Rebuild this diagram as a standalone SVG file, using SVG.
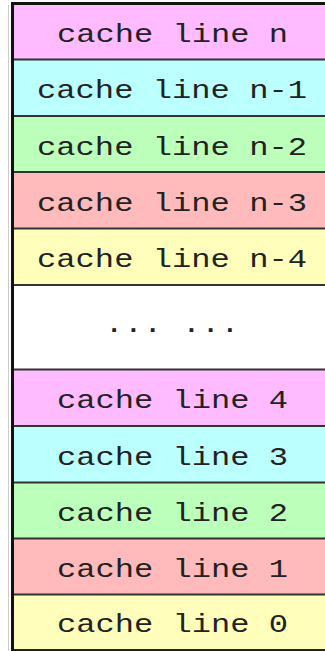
<svg xmlns="http://www.w3.org/2000/svg" width="325" height="651" viewBox="0 0 325 651">
<style>
.t{font-family:"Liberation Mono","DejaVu Sans Mono",monospace;font-size:25px;fill:#222;text-anchor:middle}
.sep{stroke:#333;stroke-width:2}
.pink{fill:#FFBBFF}.cyan{fill:#BBFFFF}.green{fill:#BBFFBB}.red{fill:#FFBBBB}.yellow{fill:#FFFFBB}
</style>
<rect width="325" height="651" fill="#fff"/>
<g id="line-n"><rect class="pink" x="12" y="3" width="320" height="56.5"/><text class="t" x="172.5" y="42" textLength="231" lengthAdjust="spacingAndGlyphs">cache line n</text></g>
<g id="line-n-1"><rect class="cyan" x="12" y="59.5" width="320" height="56.5"/><text class="t" x="172" y="98" textLength="270" lengthAdjust="spacingAndGlyphs">cache line n-1</text></g>
<g id="line-n-2"><rect class="green" x="12" y="116" width="320" height="56"/><text class="t" x="172" y="154.5" textLength="270" lengthAdjust="spacingAndGlyphs">cache line n-2</text></g>
<g id="line-n-3"><rect class="red" x="12" y="172" width="320" height="56.5"/><text class="t" x="172" y="210.5" textLength="270" lengthAdjust="spacingAndGlyphs">cache line n-3</text></g>
<g id="line-n-4"><rect class="yellow" x="12" y="228.5" width="320" height="56.5"/><text class="t" x="172" y="267" textLength="270" lengthAdjust="spacingAndGlyphs">cache line n-4</text></g>
<g id="dots"><rect fill="#fff" x="12" y="285" width="320" height="84.5"/><text class="t" x="172" y="337" textLength="135" lengthAdjust="spacingAndGlyphs">··· ···</text></g>
<g id="line-4"><rect class="pink" x="12" y="369.5" width="320" height="56.5"/><text class="t" x="172.5" y="408" textLength="231" lengthAdjust="spacingAndGlyphs">cache line 4</text></g>
<g id="line-3"><rect class="cyan" x="12" y="426" width="320" height="56.5"/><text class="t" x="172.5" y="464.5" textLength="231" lengthAdjust="spacingAndGlyphs">cache line 3</text></g>
<g id="line-2"><rect class="green" x="12" y="482.5" width="320" height="56"/><text class="t" x="172.5" y="521" textLength="231" lengthAdjust="spacingAndGlyphs">cache line 2</text></g>
<g id="line-1"><rect class="red" x="12" y="538.5" width="320" height="56"/><text class="t" x="172.5" y="577" textLength="231" lengthAdjust="spacingAndGlyphs">cache line 1</text></g>
<g id="line-0"><rect class="yellow" x="12" y="594.5" width="320" height="55"/><text class="t" x="172.5" y="632" textLength="231" lengthAdjust="spacingAndGlyphs">cache line 0</text></g>
<g id="connectors">
<line class="sep" x1="12" y1="59.5" x2="325" y2="59.5"/>
<line class="sep" x1="12" y1="116" x2="325" y2="116"/>
<line class="sep" x1="12" y1="172" x2="325" y2="172"/>
<line class="sep" x1="12" y1="228.5" x2="325" y2="228.5"/>
<line class="sep" x1="12" y1="285" x2="325" y2="285"/>
<line class="sep" x1="12" y1="369.5" x2="325" y2="369.5"/>
<line class="sep" x1="12" y1="426" x2="325" y2="426"/>
<line class="sep" x1="12" y1="482.5" x2="325" y2="482.5"/>
<line class="sep" x1="12" y1="538.5" x2="325" y2="538.5"/>
<line class="sep" x1="12" y1="594.5" x2="325" y2="594.5"/>
<line x1="12" y1="650" x2="325" y2="650" stroke="#222" stroke-width="2"/>
<line x1="11" y1="3.5" x2="325" y2="3.5" stroke="#111" stroke-width="3"/>
<line x1="12.5" y1="2" x2="12.5" y2="651" stroke="#111" stroke-width="3"/>
<line x1="8.5" y1="5" x2="8.5" y2="651" stroke="#ccc" stroke-width="1"/>
</g>
</svg>
